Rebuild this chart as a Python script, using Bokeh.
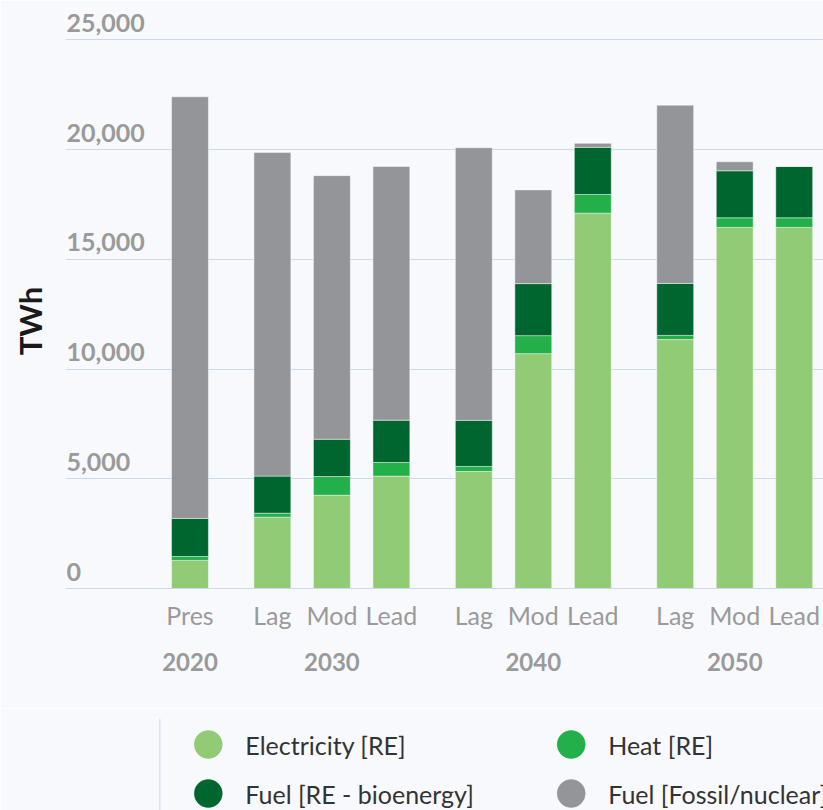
from bokeh.plotting import figure
from bokeh.layouts import column
from bokeh.models import (ColumnDataSource, Range1d, FixedTicker, LinearAxis, Grid, Span)
from bokeh.core.properties import value
from bokeh.embed import file_html
from bokeh.resources import INLINE

# ---------------- data ----------------
scenarios = ["Pres", "Lag", "Mod", "Lead", "Lag", "Mod", "Lead", "Lag", "Mod", "Lead"]
bar_years = ["2020", "2030", "2030", "2030", "2040", "2040", "2040", "2050", "2050", "2050"]
electricity = [1280, 3250, 4250, 5120, 5330, 10700, 17100, 11340, 16450, 16450]
heat = [180, 180, 850, 620, 230, 820, 850, 190, 440, 440]
bioenergy = [1730, 1690, 1700, 1930, 2100, 2370, 2150, 2370, 2140, 2340]
fossil = [19210, 14740, 12010, 11560, 12420, 4270, 180, 8120, 410, 0]
series_names = ["Electricity [RE]", "Heat [RE]", "Fuel [RE - bioenergy]", "Fuel [Fossil/nuclear]"]
y_ticks = [0, 5000, 10000, 15000, 20000, 25000]
y_tick_labels = ["0", "5,000", "10,000", "15,000", "20,000", "25,000"]
y_title = "TWh"

# ---------------- style ----------------
COLORS = ["#92cb76", "#23af4a", "#006630", "#939598"]
BG = "#f7f9fd"
GRIDC = "#ccdaf0"
LABEL_GRAY = "#9a9a9a"
FONT = "Lato"
GROUP_GAP = 0.385
BAR_WIDTH = 0.62
XSTART, XEND = -2.092, 10.647
YSTART, YEND = 0, 26424

# bar slots: one unit per bar, extra gap between year groups
xpos = []
gi = 0
for i, yr in enumerate(bar_years):
    if i > 0 and yr != bar_years[i - 1]:
        gi += 1
    xpos.append(i + GROUP_GAP * gi)
year_labels = list(dict.fromkeys(bar_years))
year_pos = [sum(x for x, y in zip(xpos, bar_years) if y == yl) /
            sum(1 for y in bar_years if y == yl) for yl in year_labels]

src = ColumnDataSource(dict(x=xpos, electricity=electricity, heat=heat,
                            bio=bioenergy, fossil=fossil))

p = figure(frame_width=758, frame_height=580,
           x_range=Range1d(XSTART, XEND), y_range=Range1d(YSTART, YEND),
           output_backend="svg", toolbar_location=None,
           x_axis_type=None, y_axis_type=None,
           min_border_left=65, min_border_right=0, min_border_top=8, min_border_bottom=120,
           background_fill_color=BG, border_fill_color=BG, outline_line_color=None)

p.add_layout(Grid(dimension=1, ticker=FixedTicker(ticks=y_ticks),
                  grid_line_color=GRIDC, grid_line_width=1))

p.vbar_stack(["electricity", "heat", "bio", "fossil"], x="x", width=BAR_WIDTH, source=src,
             fill_color=COLORS, line_color="white", line_alpha=0.45, line_width=1)

# y tick labels sit inside the plot, above their grid lines
p.text(x=[XSTART] * len(y_ticks), y=y_ticks, text=y_tick_labels,
       text_font=value(FONT), text_font_size="25px", text_font_style="bold",
       text_color=LABEL_GRAY, text_align="left", text_baseline="middle",
       x_offset=1, y_offset=-17)

# y axis: only the title (trailing no-break spaces nudge it a little below centre)
yax = LinearAxis(ticker=FixedTicker(ticks=[]), axis_label=y_title + "\u00a0" * 6,
                 axis_line_color=None, major_tick_line_color=None, minor_tick_line_color=None,
                 major_label_text_font_size="0px", major_label_text_color=None,
                 axis_label_text_font=FONT, axis_label_text_font_size="31px",
                 axis_label_text_font_style="bold", axis_label_text_color="#1a1a1a",
                 axis_label_standoff=17)
p.add_layout(yax, "left")

# x axis: scenario labels
xax = LinearAxis(ticker=FixedTicker(ticks=xpos),
                 major_label_overrides={x: s for x, s in zip(xpos, scenarios)},
                 axis_line_color=GRIDC, axis_line_width=1,
                 major_tick_line_color=None, minor_tick_line_color=None,
                 major_label_standoff=5,
                 major_label_text_font=FONT, major_label_text_font_size="25px",
                 major_label_text_color=LABEL_GRAY)
p.add_layout(xax, "below")

# x axis: year groups
yrax = LinearAxis(ticker=FixedTicker(ticks=year_pos),
                  major_label_overrides={x: s for x, s in zip(year_pos, year_labels)},
                  axis_line_color=None, major_tick_line_color=None, minor_tick_line_color=None,
                  major_label_standoff=14,
                  major_label_text_font=FONT, major_label_text_font_size="24px",
                  major_label_text_font_style="bold", major_label_text_color=LABEL_GRAY)
p.add_layout(yrax, "below")

# ---------------- legend panel (2 x 2 grid of swatches) ----------------
leg_col = [i % 2 for i in range(len(series_names))]
leg_row = [-(i // 2) for i in range(len(series_names))]
leg_src = ColumnDataSource(dict(col=leg_col, row=leg_row, name=series_names, color=COLORS))

LEG_X0, LEG_X1 = -0.3935, 1.6952
lg = figure(width=823, height=102,
            x_range=Range1d(LEG_X0, LEG_X1), y_range=Range1d(-1.3469, 0.5306),
            output_backend="svg", toolbar_location=None,
            x_axis_type=None, y_axis_type=None,
            min_border_left=65, min_border_right=0, min_border_top=10, min_border_bottom=0,
            background_fill_color=BG, border_fill_color=BG, outline_line_color=None)
# thin rule on the legend's left side
lg.add_layout(Span(location=-0.1336, dimension="height", line_color=GRIDC, line_width=1))
lg.scatter(x="col", y="row", source=leg_src, marker="circle", size=28,
           fill_color="color", line_color="color", line_width=0.5)
lg.text(x="col", y="row", text="name", source=leg_src, x_offset=37,
        text_font=value(FONT), text_font_size="25px", text_color="#333333",
        text_align="left", text_baseline="middle")

layout = column(p, lg, spacing=0)

open("out.html", "w").write(file_html(layout, INLINE))
